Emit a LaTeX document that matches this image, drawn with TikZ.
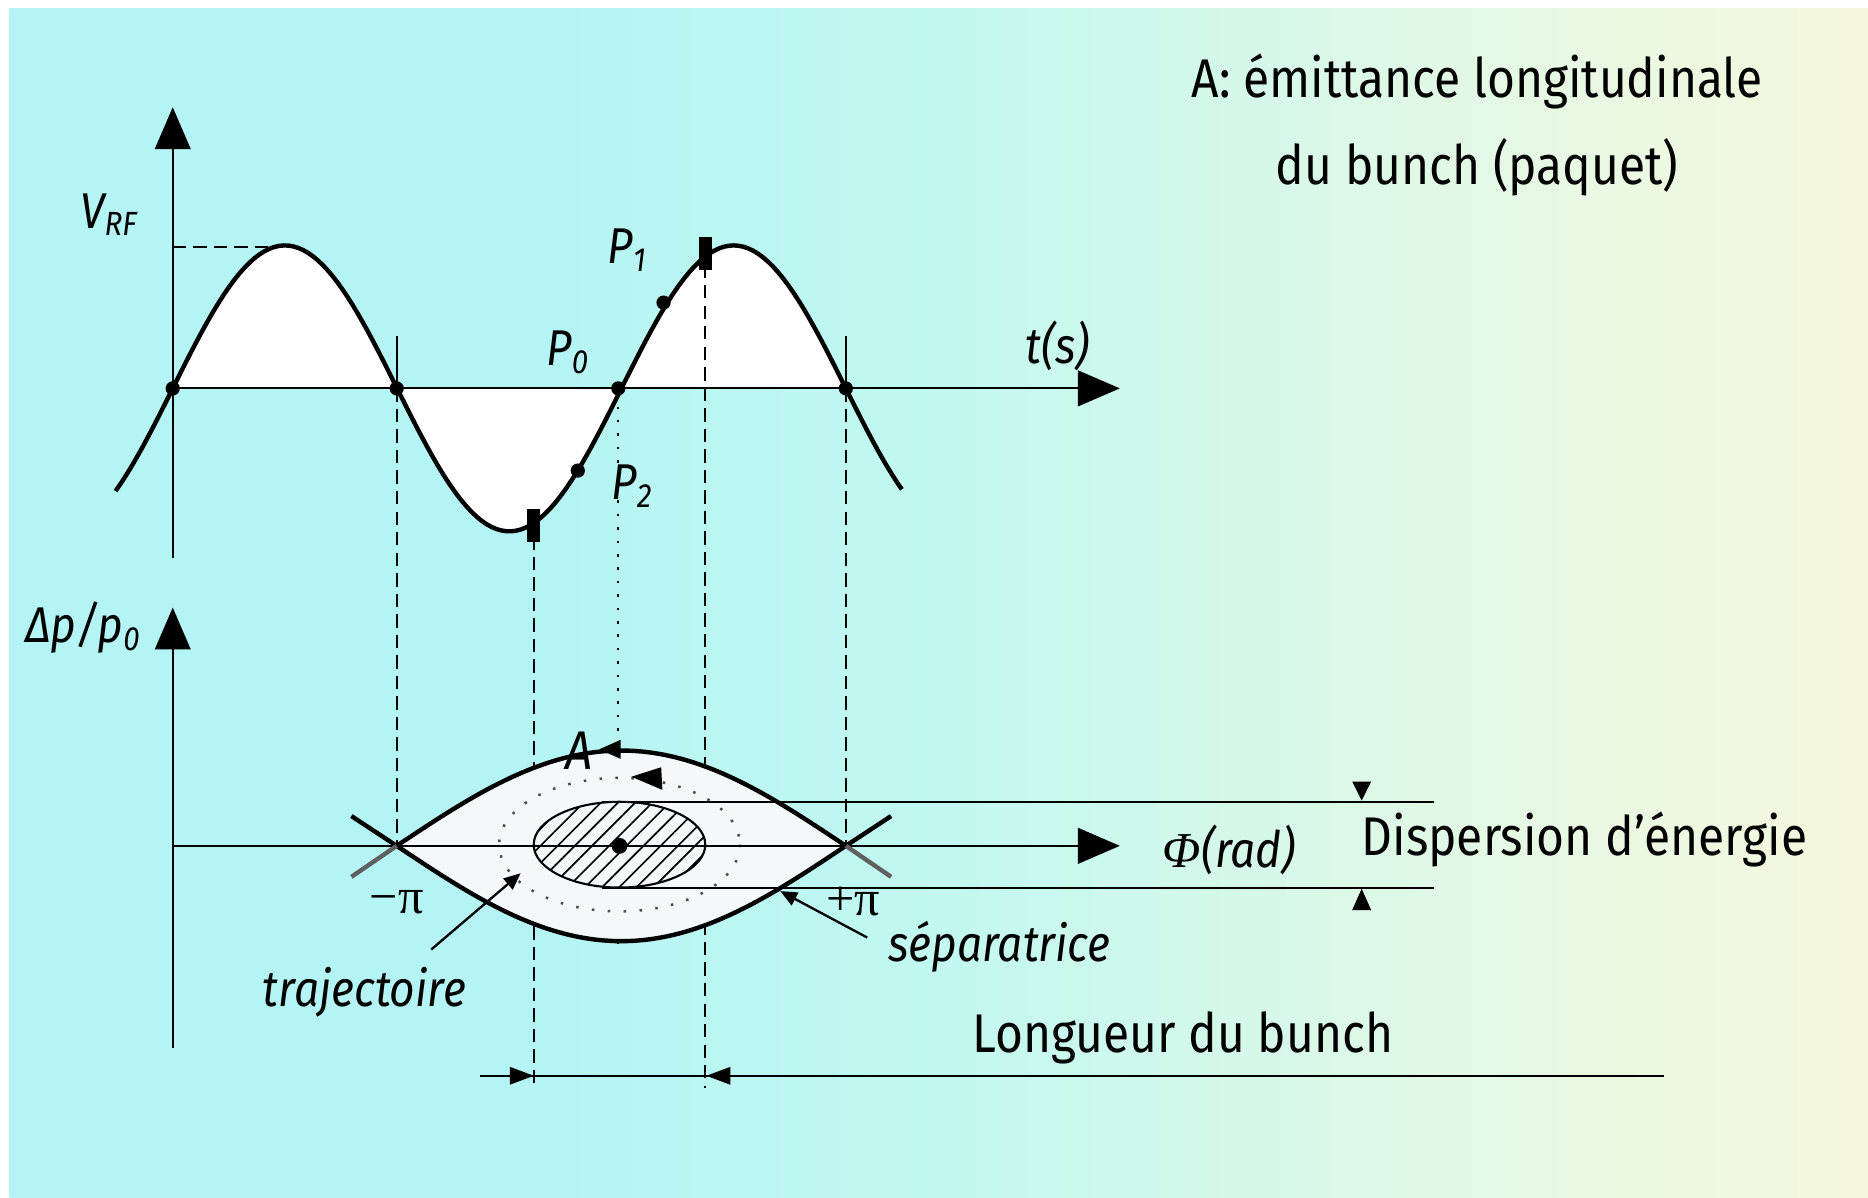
\documentclass[tikz,border=0pt]{standalone}
\usepackage{fontspec}
\setmainfont{Fira Sans}[FakeStretch=0.88]
\newfontfamily\serifgr{Liberation Serif}
\usetikzlibrary{arrows.meta,patterns.meta}
\definecolor{bgA}{HTML}{B4F4F4}
\definecolor{bgB}{HTML}{C2F8F0}
\definecolor{bgC}{HTML}{E0F8E6}
\definecolor{bgD}{HTML}{F6F8DE}
\definecolor{lensfill}{HTML}{F5F8F8}
\pgfdeclarehorizontalshading{bgshade}{100bp}{color(0bp)=(bgA); color(25bp)=(bgA); color(39bp)=(bgA); color(50bp)=(bgB); color(63bp)=(bgC); color(75bp)=(bgD); color(100bp)=(bgD)}
\tikzset{
  axisarrow/.style={line width=0.5pt, -{Triangle[length=10pt,width=8.5pt]}},
  curve/.style={line width=1.05pt},
  thinline/.style={line width=0.5pt},
  guide/.style={line width=0.5pt, dash pattern=on 3.2pt off 1.7pt},
  dotline/.style={line width=0.5pt, dash pattern=on 0.6pt off 2.6pt},
  dotc/.style={fill=black, circle, inner sep=0pt, minimum size=3.4pt},
  marker/.style={fill=black, inner sep=0pt, minimum width=3pt, minimum height=7.9pt},
  lbl/.style={font=\itshape\fontsize{12}{12}\selectfont, inner sep=0pt},
  txt/.style={font=\fontsize{13}{13}\selectfont, inner sep=0pt},
  pilbl/.style={font=\serifgr\fontsize{12}{12}\selectfont, inner sep=0pt},
  ptr/.style={line width=0.55pt, -{Triangle[length=4pt,width=3.4pt]}},
}
\begin{document}
\begin{tikzpicture}[x=0.01cm,y=-0.01cm]
\useasboundingbox (0,0) rectangle (1568,1005);
\fill[white] (0,0) rectangle (1568,1005);
\path[shading=bgshade] (8,7) rectangle (1568,1005);

% ---------- upper plot : V_RF(t) ----------
\coordinate (vbot) at (145,468);
\coordinate (vtop) at (145,90);
\coordinate (tO) at (145,326);
\coordinate (tend) at (940,326);
\fill[white] (145,326) -- plot[domain=145:710,samples=150] (\x,{326-120*sin((\x-145)/188.33*180)}) -- cycle;
\draw[axisarrow] (vbot) -- (vtop);
\draw[axisarrow] (tO) -- (tend);
\coordinate (vmax) at (145,207);
\coordinate (pk) at (237,207);
\draw[guide] (vmax) -- (pk);

% guides
\coordinate (gA1) at (333,282); \coordinate (gA2) at (333,326); \coordinate (gA3) at (333,710);
\coordinate (gB1) at (710,282); \coordinate (gB2) at (710,326); \coordinate (gB3) at (710,710);
\draw[thinline] (gA1) -- (gA2);
\draw[guide] (gA2) -- (gA3);
\draw[thinline] (gB1) -- (gB2);
\draw[guide] (gB2) -- (gB3);
\coordinate (gC1) at (448,450); \coordinate (gC2) at (448,913);
\coordinate (gD1) at (592,222); \coordinate (gD2) at (592,913);
\draw[guide] (gC1) -- (gC2);
\draw[guide] (gD1) -- (gD2);
\coordinate (gE1) at (519,330); \coordinate (gE2) at (519,792);
\draw[dotline] (gE1) -- (gE2);

\draw[curve] plot[domain=97:757,samples=160] (\x,{326-120*sin((\x-145)/188.33*180)});

\node[dotc] (z0) at (145,326) {};
\node[dotc] (z1) at (333,326) {};
\node[dotc] (z2) at (519,326) {};
\node[dotc] (z3) at (710,326) {};
\node[dotc] (pt1) at (557,254) {};
\node[dotc] (pt2) at (485,395) {};
\node[marker] (mk1) at (592,213) {};
\node[marker] (mk2) at (448,441) {};

\node[lbl] (vrf) at (92,180) {V\textsubscript{RF}};
\node[lbl] (p1) at (527,210) {P\textsubscript{1}};
\node[lbl] (p0) at (477,296) {P\textsubscript{0}};
\node[lbl] (p2) at (531,408) {P\textsubscript{2}};
\node[lbl] (ts) at (888,290) {t(s)};

% ---------- lower plot : phase space ----------
\coordinate (pbot) at (145,880);
\coordinate (ptop) at (145,510);
\coordinate (pO) at (145,710);
\coordinate (pend) at (940,710);

\fill[lensfill] plot[domain=333:710,samples=100] (\x,{710-80*cos((\x-521.5)/188.5*90)})
  -- plot[domain=710:333,samples=100] (\x,{710+80*cos((\x-521.5)/188.5*90)}) -- cycle;
\draw[line width=0.6pt, black!70, dash pattern=on 0.6pt off 3.2pt] (520,709) ellipse [x radius=101, y radius=56];
\draw[axisarrow] (pbot) -- (ptop);
\draw[axisarrow] (pO) -- (pend);
\draw[line width=0.5pt, pattern={Lines[angle=45,distance=2.9pt,line width=0.4pt]}] (520,709) ellipse [x radius=72, y radius=36];
\node[dotc, minimum size=3.8pt] (ctr) at (520,710) {};

\draw[curve] plot[domain=333:710,samples=100] (\x,{710-80*cos((\x-521.5)/188.5*90)});
\draw[curve] plot[domain=333:710,samples=100] (\x,{710+80*cos((\x-521.5)/188.5*90)});
% crossing arms
\coordinate (xl) at (333,710); \coordinate (xr) at (710,710);
\coordinate (al1) at (295,685); \coordinate (al2) at (295,736);
\coordinate (ar1) at (748,685); \coordinate (ar2) at (748,736);
\draw[curve] (xl) -- (al1);
\draw[curve, gray!75!black] (xl) -- (al2);
\draw[curve] (xr) -- (ar1);
\draw[curve, gray!75!black] (xr) -- (ar2);

% direction arrows on separatrix and trajectory
\fill (503,629) -- (521,621) -- (521,637) -- cycle;
\fill (530,652) -- (555,644) -- (556,663) -- cycle;
\node[lbl, font=\itshape\fontsize{13}{13}\selectfont] (A) at (486,630) {A};

% energy spread
\coordinate (d1a) at (505,673); \coordinate (d1b) at (1204,673);
\coordinate (d2a) at (505,745); \coordinate (d2b) at (1204,745);
\draw[thinline] (d1a) -- (d1b);
\draw[thinline] (d2a) -- (d2b);
\fill (1143,672) -- (1135,656) -- (1151,656) -- cycle;
\fill (1143,746) -- (1135,764) -- (1151,764) -- cycle;
\node[txt] (disp) at (1330,705) {Dispersion d'énergie};

\node[lbl] (phi) at (1032,713) {{\serifgr\itshape Φ}(rad)};

\node[pilbl] (mpi) at (333,757) {−π};
\node[pilbl] (ppi) at (716,757) {+π};

% pointers
\coordinate (tr0) at (362,797); \coordinate (tr1) at (437,733);
\draw[ptr] (tr0) -- (tr1);
\coordinate (sp0) at (728,787); \coordinate (sp1) at (655,748);
\draw[ptr] (sp0) -- (sp1);
\node[lbl] (traj) at (306,833) {trajectoire};
\node[lbl] (sep) at (839,795) {séparatrice};

% bunch length
\coordinate (bl0) at (403,903); \coordinate (bl1) at (1397,903);
\draw[thinline] (bl0) -- (bl1);
\fill (448,903) -- (428,895.5) -- (428,910.5) -- cycle;
\fill (593,903) -- (613,895.5) -- (613,910.5) -- cycle;
\node[txt] (long) at (993,871) {Longueur du bunch};

% title
\node[txt] (t1) at (1240,68) {A: émittance longitudinale};
\node[txt] (t2) at (1240,140) {du bunch (paquet)};
\node[lbl] (dp) at (70,527) {Δp/p\textsubscript{0}};
\end{tikzpicture}
\end{document}
